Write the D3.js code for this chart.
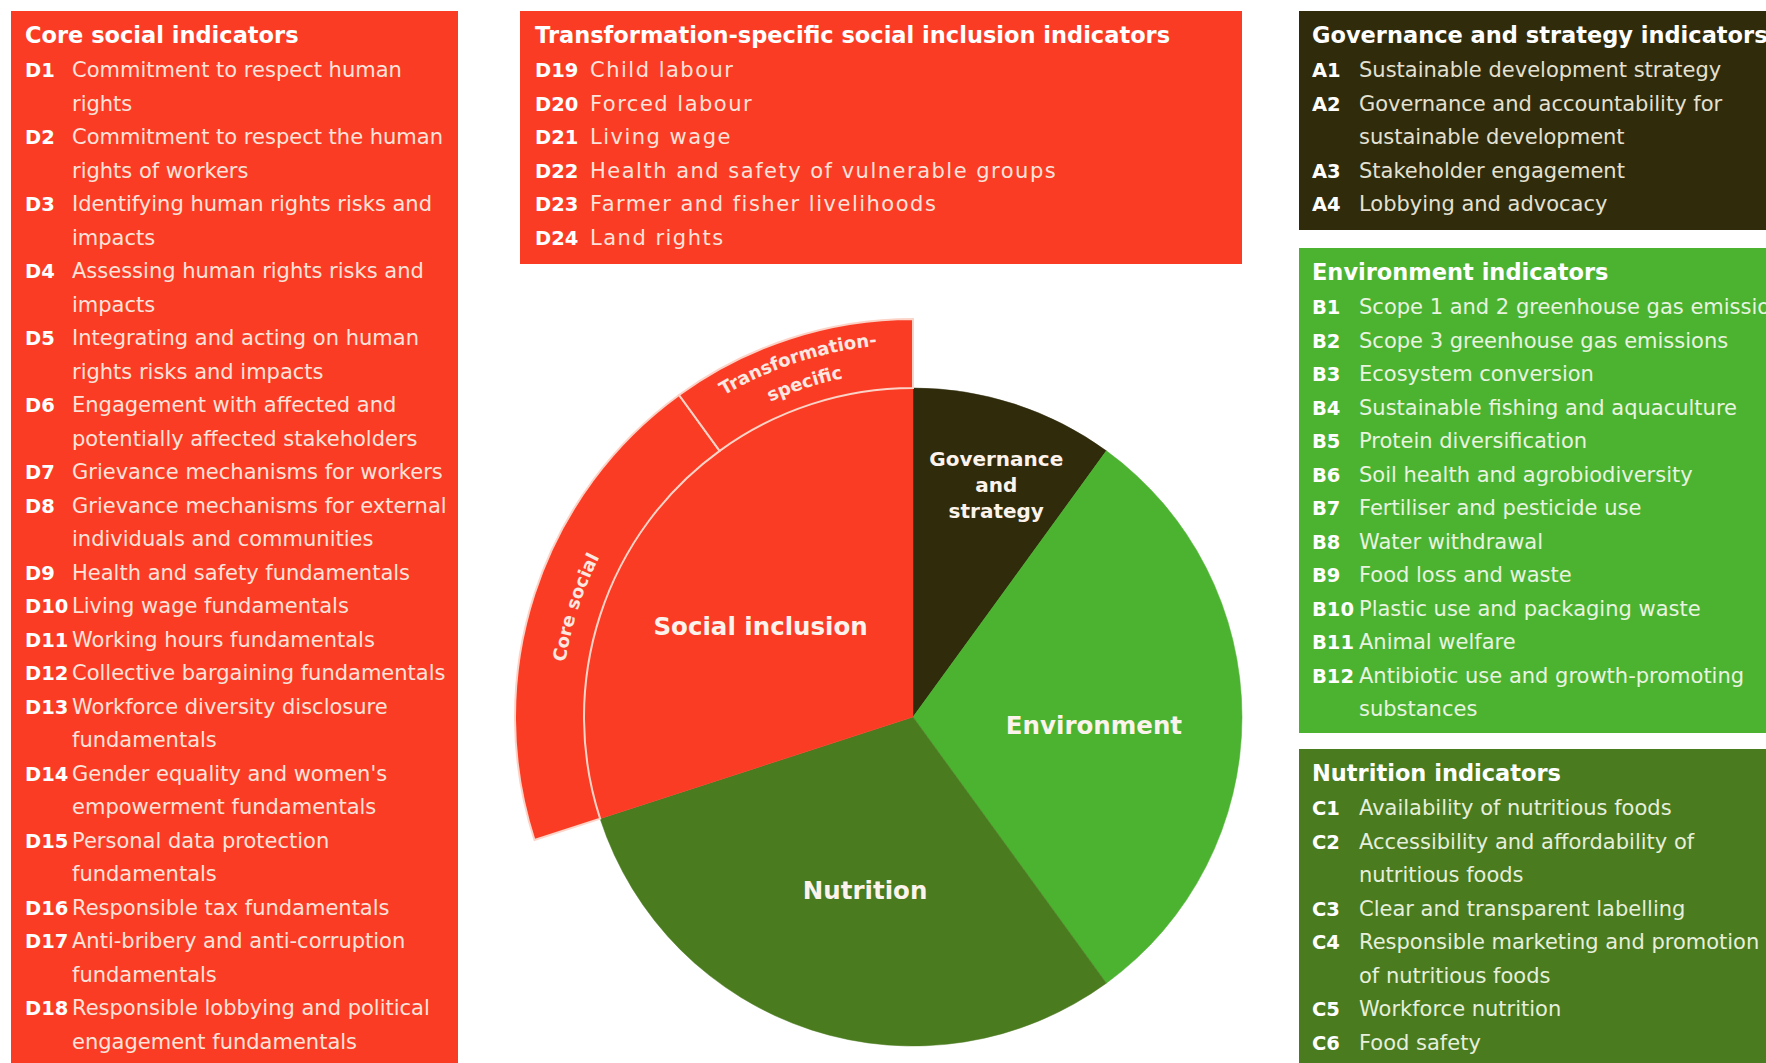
<!DOCTYPE html>
<html>
<head>
<meta charset="utf-8">
<script src="https://cdn.jsdelivr.net/npm/d3@7"></script>
<style>
  body { margin: 0; background: #fff; }
  svg { display: block; font-family: "DejaVu Sans", sans-serif; }
</style>
</head>
<body>
<svg id="chart" width="1766" height="1063"></svg>
<script>
// pie: weights of the four areas
const pieSegments = ["Governance and strategy", "Environment", "Nutrition", "Social inclusion"];
const pieWeights = [10, 30, 30, 30];
const pieLabels = [["Governance", "and", "strategy"], ["Environment"], ["Nutrition"], ["Social inclusion"]];

// outer ring splits the social inclusion slice
const ringSegments = ["Core social", "Transformation-specific"];
const ringWeights = [20, 10];
const ringLabels = [["Core social"], ["Transformation-", "specific"]];

// indicator lists
const coreSocialTitle = "Core social indicators";
const coreSocialCodes = ["D1", "D2", "D3", "D4", "D5", "D6", "D7", "D8", "D9", "D10", "D11", "D12", "D13", "D14", "D15", "D16", "D17", "D18"];
const coreSocialLines = [
  ["Commitment to respect human", "rights"],
  ["Commitment to respect the human", "rights of workers"],
  ["Identifying human rights risks and", "impacts"],
  ["Assessing human rights risks and", "impacts"],
  ["Integrating and acting on human", "rights risks and impacts"],
  ["Engagement with affected and", "potentially affected stakeholders"],
  ["Grievance mechanisms for workers"],
  ["Grievance mechanisms for external", "individuals and communities"],
  ["Health and safety fundamentals"],
  ["Living wage fundamentals"],
  ["Working hours fundamentals"],
  ["Collective bargaining fundamentals"],
  ["Workforce diversity disclosure", "fundamentals"],
  ["Gender equality and women's", "empowerment fundamentals"],
  ["Personal data protection", "fundamentals"],
  ["Responsible tax fundamentals"],
  ["Anti-bribery and anti-corruption", "fundamentals"],
  ["Responsible lobbying and political", "engagement fundamentals"]
];

const transformTitle = "Transformation-specific social inclusion indicators";
const transformCodes = ["D19", "D20", "D21", "D22", "D23", "D24"];
const transformLines = [
  ["Child labour"], ["Forced labour"], ["Living wage"],
  ["Health and safety of vulnerable groups"], ["Farmer and fisher livelihoods"], ["Land rights"]
];

const governanceTitle = "Governance and strategy indicators";
const governanceCodes = ["A1", "A2", "A3", "A4"];
const governanceLines = [
  ["Sustainable development strategy"],
  ["Governance and accountability for", "sustainable development"],
  ["Stakeholder engagement"],
  ["Lobbying and advocacy"]
];

const environmentTitle = "Environment indicators";
const environmentCodes = ["B1", "B2", "B3", "B4", "B5", "B6", "B7", "B8", "B9", "B10", "B11", "B12"];
const environmentLines = [
  ["Scope 1 and 2 greenhouse gas emissions"],
  ["Scope 3 greenhouse gas emissions"],
  ["Ecosystem conversion"],
  ["Sustainable fishing and aquaculture"],
  ["Protein diversification"],
  ["Soil health and agrobiodiversity"],
  ["Fertiliser and pesticide use"],
  ["Water withdrawal"],
  ["Food loss and waste"],
  ["Plastic use and packaging waste"],
  ["Animal welfare"],
  ["Antibiotic use and growth-promoting", "substances"]
];

const nutritionTitle = "Nutrition indicators";
const nutritionCodes = ["C1", "C2", "C3", "C4", "C5", "C6"];
const nutritionLines = [
  ["Availability of nutritious foods"],
  ["Accessibility and affordability of", "nutritious foods"],
  ["Clear and transparent labelling"],
  ["Responsible marketing and promotion", "of nutritious foods"],
  ["Workforce nutrition"],
  ["Food safety"]
];

// colours
const RED = "#fb3c25", DARK = "#2f2b0b", GREEN = "#4bb330", OLIVE = "#4a7b1f";
const pieColors = { "Governance and strategy": DARK, "Environment": GREEN, "Nutrition": OLIVE, "Social inclusion": RED };

const svg = d3.select("#chart");

// ---------- indicator boxes ----------
const boxes = [
  { title: coreSocialTitle, codes: coreSocialCodes, lines: coreSocialLines, x: 11, y: 11, w: 447, h: 1070, fill: RED, ink: "#fde3da", codeDx: 14, textDx: 61, spacing: 0 },
  { title: transformTitle, codes: transformCodes, lines: transformLines, x: 520, y: 11, w: 722, h: 253, fill: RED, ink: "#fde3da", codeDx: 15, textDx: 70, spacing: 1.5 },
  { title: governanceTitle, codes: governanceCodes, lines: governanceLines, x: 1299, y: 11, w: 480, h: 219, fill: DARK, ink: "#e4e1d2", codeDx: 13, textDx: 60, spacing: 0 },
  { title: environmentTitle, codes: environmentCodes, lines: environmentLines, x: 1299, y: 248, w: 480, h: 485, fill: GREEN, ink: "#e8f4e0", codeDx: 13, textDx: 60, spacing: 0 },
  { title: nutritionTitle, codes: nutritionCodes, lines: nutritionLines, x: 1299, y: 749, w: 480, h: 330, fill: OLIVE, ink: "#e6efdc", codeDx: 13, textDx: 60, spacing: 0 }
];

const lineH = 33.5;

boxes.forEach(b => {
  const g = svg.append("g").attr("transform", `translate(${b.x},${b.y})`);
  g.append("rect")
    .attr("width", b.w)
    .attr("height", b.h)
    .attr("fill", b.fill);

  g.append("text")
    .attr("x", b.codeDx)
    .attr("y", 32)
    .attr("fill", "#fff")
    .style("font-size", "22.5px")
    .style("font-weight", "bold")
    .text(b.title);

  let row = 0;
  b.codes.forEach((code, i) => {
    const y0 = 66 + row * lineH;
    g.append("text")
      .attr("x", b.codeDx)
      .attr("y", y0)
      .attr("fill", "#fff")
      .style("font-size", "19.5px")
      .style("font-weight", "bold")
      .text(code);
    b.lines[i].forEach((ln, j) => {
      g.append("text")
        .attr("x", b.textDx)
        .attr("y", y0 + j * lineH)
        .attr("fill", b.ink)
        .style("font-size", "21px")
        .style("letter-spacing", b.spacing + "px")
        .text(ln);
    });
    row += b.lines[i].length;
  });
});

// ---------- pie ----------
const cx = 913, cy = 717;
const radius = 329, ringOuter = 398;

const pieData = pieSegments.map((name, i) => ({ name, value: pieWeights[i], label: pieLabels[i] }));

const pie = d3.pie()
  .sort(null)
  .value(d => d.value);

const arcs = pie(pieData);
const arc = d3.arc().innerRadius(0).outerRadius(radius);

const pg = svg.append("g").attr("transform", `translate(${cx},${cy})`);

pg.selectAll("path.slice")
  .data(arcs)
  .join("path")
  .attr("class", "slice")
  .attr("d", arc)
  .attr("fill", d => pieColors[d.data.name])
  .attr("stroke", d => pieColors[d.data.name])
  .attr("stroke-width", 0.5);

// ring over social inclusion
const social = arcs.find(d => d.data.name === "Social inclusion");
const ringData = ringSegments.map((name, i) => ({ name, value: ringWeights[i], label: ringLabels[i] }));
const ringArcs = d3.pie()
  .sort(null)
  .value(d => d.value)
  .startAngle(social.startAngle)
  .endAngle(social.endAngle)(ringData);

const ringArc = d3.arc().innerRadius(radius).outerRadius(ringOuter);

pg.selectAll("path.ring")
  .data(ringArcs)
  .join("path")
  .attr("class", "ring")
  .attr("d", ringArc)
  .attr("fill", RED)
  .attr("stroke", "#fcd3c7")
  .attr("stroke-width", 2);

// curved labels in the ring
const defs = svg.append("defs");
const ringBaselines = { "Core social": [352], "Transformation-specific": [373, 346] };

ringArcs.forEach((d, i) => {
  d.data.label.forEach((txt, j) => {
    const r = ringBaselines[d.data.name][j];
    const p = d3.path();
    p.arc(0, 0, r, d.startAngle - Math.PI / 2, d.endAngle - Math.PI / 2, false);
    const id = `ringpath-${i}-${j}`;
    defs.append("path").attr("id", id).attr("d", p.toString());
    pg.append("text")
      .attr("fill", "#fde8e1")
      .style("font-size", "18px")
      .style("font-weight", "bold")
      .append("textPath")
      .attr("href", `#${id}`)
      .attr("startOffset", "50%")
      .attr("text-anchor", "middle")
      .text(txt);
  });
});

// slice labels
const labelFactor = name => name === "Governance and strategy" ? 0.75 : 0.55;
const labelNudge = {
  "Social inclusion": [-6, 16],
  "Environment": [0, 8],
  "Nutrition": [8, 1],
  "Governance and strategy": [7, 2]
};

arcs.forEach(d => {
  const f = labelFactor(d.data.name);
  const [lx, ly] = d3.arc().innerRadius(0).outerRadius(radius * f * 2).centroid(d);
  const nudge = labelNudge[d.data.name] || [0, 0];
  const multi = d.data.label.length > 1;
  const size = multi ? 20 : 24.5;
  const lh = 26;
  const t = pg.append("text")
    .attr("text-anchor", "middle")
    .attr("fill", "#fbf3ec")
    .style("font-size", size + "px")
    .style("font-weight", "bold");
  d.data.label.forEach((ln, j) => {
    t.append("tspan")
      .attr("x", lx + nudge[0])
      .attr("y", ly + nudge[1] + (j - (d.data.label.length - 1) / 2) * lh)
      .attr("dy", "0.36em")
      .text(ln);
  });
});
</script>
</body>
</html>
